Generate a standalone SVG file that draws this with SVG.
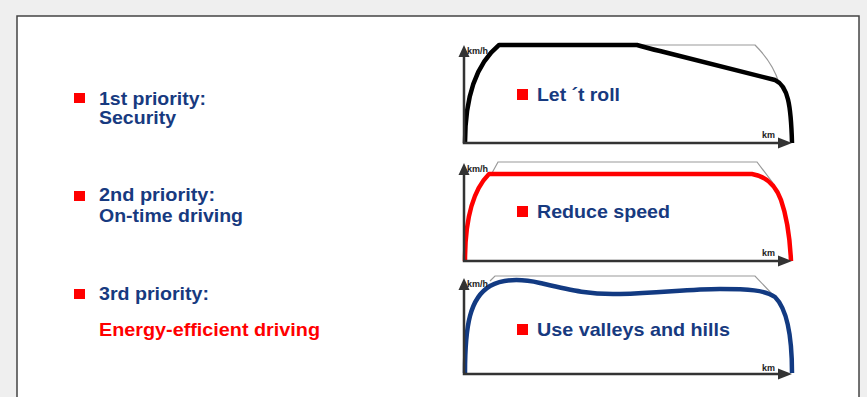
<svg xmlns="http://www.w3.org/2000/svg" width="867" height="397" viewBox="0 0 867 397">
<style>
.t{font-family:"Liberation Sans",Arial,sans-serif;font-weight:bold;font-size:18.5px;fill:#173a80}
.r{fill:#f00}
.ax{stroke:#333;stroke-width:2.5;fill:none}
.ah{fill:#333}
.gl{stroke:#999;stroke-width:1.2;fill:none}
.lab{font-family:"Liberation Sans",Arial,sans-serif;font-weight:bold;font-size:9px;fill:#222}
.sq{fill:#f00}
</style>
<rect x="0" y="0" width="867" height="397" fill="#efefef"/>
<rect x="17" y="16" width="842" height="390" fill="#fff" stroke="#444" stroke-width="1.5"/>

<g id="priorities">
<g id="p1">
<rect class="sq" x="74" y="93" width="11" height="10"/>
<text class="t" x="99" y="105" textLength="107" lengthAdjust="spacingAndGlyphs">1st priority:</text>
<text class="t" x="99" y="124" textLength="77" lengthAdjust="spacingAndGlyphs">Security</text>
</g>
<g id="p2">
<rect class="sq" x="74" y="191" width="11" height="10"/>
<text class="t" x="99" y="201" textLength="116" lengthAdjust="spacingAndGlyphs">2nd priority:</text>
<text class="t" x="99" y="222" textLength="144" lengthAdjust="spacingAndGlyphs">On-time driving</text>
</g>
<g id="p3">
<rect class="sq" x="74" y="289" width="11" height="10"/>
<text class="t" x="99" y="300" textLength="110" lengthAdjust="spacingAndGlyphs">3rd priority:</text>
<text class="t r" x="99" y="336" textLength="221" lengthAdjust="spacingAndGlyphs">Energy-efficient driving</text>
</g>
</g>

<g id="chart1">
<path class="gl" d="M637,45 L755,45 C766,56 775,70 779,83"/>
<path d="M465,143 C465,98 476,64 499,45 L637,45 C645,47 650,49 660,51 L775,80 C788,86 791,105 792,143" fill="none" stroke="#000" stroke-width="4.5" stroke-linejoin="round"/>
<path class="ax" d="M464,57 L464,143 L779,143"/>
<polygon class="ah" points="464,45 458.5,57 469.5,57"/>
<polygon class="ah" points="792,143 778,137.5 778,148.5"/>
<text class="lab" x="467" y="54">km/h</text>
<text class="lab" x="762" y="138">km</text>
<rect class="sq" x="517" y="89" width="11" height="11"/>
<text class="t" x="537" y="101" textLength="83" lengthAdjust="spacingAndGlyphs">Let ´t roll</text>
</g>

<g id="chart2">
<path class="gl" d="M492,173 L498,162 L757,162 L773,183"/>
<path d="M465,261 C465,215 475,188 489,174 L752,174 C765,176 775,184 781,200 C788,220 790,240 791,261" fill="none" stroke="#f00" stroke-width="4.5" stroke-linejoin="round"/>
<path class="ax" d="M464,175 L464,261 L779,261"/>
<polygon class="ah" points="464,163 458.5,175 469.5,175"/>
<polygon class="ah" points="792,261 778,255.5 778,266.5"/>
<text class="lab" x="467" y="172">km/h</text>
<text class="lab" x="762" y="256">km</text>
<rect class="sq" x="517" y="206" width="11" height="11"/>
<text class="t" x="537" y="218" textLength="133" lengthAdjust="spacingAndGlyphs">Reduce speed</text>
</g>

<g id="chart3">
<path class="gl" d="M490,281 L495,276 L755,276 L773,295"/>
<path d="M465,373 C465,325 470,298 490,286 C503,279 518,278 540,283 C570,290 590,295 620,294 C660,293 690,289 720,289 C748,289 765,290 775,297 C788,310 792,340 792,373" fill="none" stroke="#123a82" stroke-width="4.5" stroke-linejoin="round"/>
<path class="ax" d="M464,290 L464,374 L779,374"/>
<polygon class="ah" points="464,278 458.5,290 469.5,290"/>
<polygon class="ah" points="792,374 778,368.5 778,379.5"/>
<text class="lab" x="467" y="287">km/h</text>
<text class="lab" x="762" y="371">km</text>
<rect class="sq" x="517" y="324" width="11" height="11"/>
<text class="t" x="537" y="336" textLength="193" lengthAdjust="spacingAndGlyphs">Use valleys and hills</text>
</g>
</svg>
